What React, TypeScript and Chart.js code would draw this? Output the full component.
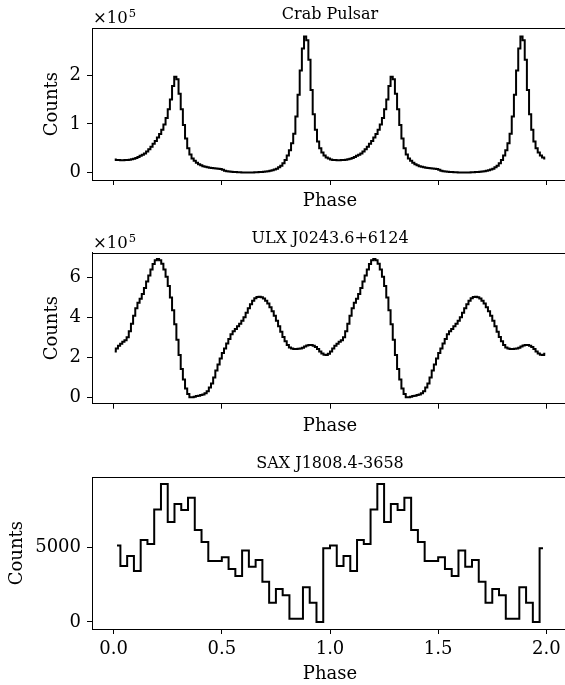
import React, { useEffect, useRef } from "react";
import { Chart, registerables } from "chart.js";

Chart.register(...registerables);

// ---------------- data ----------------
const phaseTicks = [0, 0.5, 1.0, 1.5, 2.0];
const cycles = 2;

const crabTitle = "Crab Pulsar";
// counts per phase bin, one pulse cycle (100 bins, x1e5)
const crabCounts = [
  0.27, 0.26, 0.255, 0.25, 0.25, 0.255, 0.26, 0.265, 0.275, 0.285,
  0.30, 0.32, 0.345, 0.365, 0.39, 0.43, 0.48, 0.53, 0.59, 0.65,
  0.72, 0.79, 0.88, 0.99, 1.12, 1.30, 1.50, 1.78, 1.97, 1.92,
  1.62, 1.30, 0.975, 0.70, 0.50, 0.37, 0.29, 0.24, 0.20, 0.17,
  0.15, 0.13, 0.12, 0.11, 0.10, 0.095, 0.09, 0.085, 0.08, 0.07,
  0.055, 0.035, 0.025, 0.02, 0.015, 0.01, 0.01, 0.005, 0.005, 0.0,
  0.0, 0.0, 0.0, 0.0, 0.0, 0.005, 0.005, 0.01, 0.01, 0.015,
  0.02, 0.025, 0.035, 0.045, 0.06, 0.08, 0.11, 0.14, 0.19, 0.26,
  0.35, 0.46, 0.60, 0.80, 1.15, 1.60, 2.10, 2.55, 2.80, 2.72,
  2.32, 1.70, 1.20, 0.88, 0.64, 0.50, 0.41, 0.35, 0.31, 0.29,
].map((v) => v * 1e5);
const crabYTicks = [0, 100000, 200000];

const ulxTitle = "ULX J0243.6+6124";
// counts per phase bin, one pulse cycle (100 bins, x1e5)
const ulxCounts = [
  2.30, 2.45, 2.58, 2.68, 2.78, 2.86, 3.00, 3.30, 3.68, 4.08,
  4.45, 4.72, 4.92, 5.15, 5.45, 5.78, 6.08, 6.38, 6.65, 6.84,
  6.90, 6.84, 6.66, 6.38, 6.02, 5.55, 4.98, 4.35, 3.65, 2.88,
  2.12, 1.42, 0.90, 0.45, 0.18, 0.02, 0.02, 0.05, 0.08, 0.10,
  0.13, 0.16, 0.22, 0.32, 0.50, 0.70, 1.00, 1.35, 1.65, 1.95,
  2.22, 2.45, 2.70, 2.92, 3.15, 3.30, 3.42, 3.55, 3.68, 3.82,
  4.00, 4.22, 4.45, 4.65, 4.82, 4.95, 5.01, 5.02, 5.00, 4.93,
  4.82, 4.68, 4.50, 4.30, 4.08, 3.82, 3.55, 3.28, 3.02, 2.80,
  2.62, 2.50, 2.44, 2.42, 2.42, 2.43, 2.45, 2.48, 2.54, 2.60,
  2.62, 2.62, 2.58, 2.52, 2.42, 2.30, 2.20, 2.13, 2.12, 2.18,
].map((v) => v * 1e5);
const ulxYTicks = [0, 200000, 400000, 600000];

const saxTitle = "SAX J1808.4-3658";
// counts per phase bin, one pulse cycle (32 bins)
const saxCounts = [
  5100, 3730, 4400, 3400, 5470, 5200, 7500, 9200,
  6670, 7870, 7470, 8290, 6130, 5330, 4070, 4070,
  4310, 3530, 3070, 4760, 3690, 4130, 2690, 1290,
  2200, 1780, 220, 220, 2310, 1290, 0, 4910,
];
const saxYTicks = [0, 5000];

const xLabel = "Phase";
const yLabel = "Counts";

// ---------------- helpers ----------------
function foldedSeries(values: number[]) {
  const n = values.length;
  const pts: { x: number; y: number }[] = [];
  for (let c = 0; c < cycles; c++) {
    for (let k = 0; k < n; k++) {
      pts.push({ x: c + (k + 0.5) / n, y: values[k] });
    }
  }
  return pts;
}

const FONT = "'DejaVu Serif', serif";
const CANVAS_W = 575;

type PanelSpec = {
  title: string;
  values: number[];
  yTicks: number[];
  yMin: number;
  yMax: number;
  exponent: number | null;
  top: number;
  height: number;
  spineTop: number;
  spineBottom: number;
  showXLabels: boolean;
  yTitlePad: number;
  xTitlePadBottom: number;
};

function Panel({ spec }: { spec: PanelSpec }) {
  const ref = useRef<HTMLCanvasElement | null>(null);
  useEffect(() => {
    const canvas = ref.current;
    if (!canvas) return;
    const divisor = spec.exponent ? Math.pow(10, spec.exponent) : 1;
    const framePlugin = {
      id: "frame" + spec.title.replace(/[^A-Za-z0-9]/g, ""),
      afterDraw(chart: any) {
        const { ctx, chartArea } = chart;
        const { left, right, top } = chartArea;
        ctx.save();
        // top spine
        ctx.strokeStyle = "#000";
        ctx.lineWidth = 1;
        ctx.beginPath();
        ctx.moveTo(left, Math.round(top) + 0.5);
        ctx.lineTo(right, Math.round(top) + 0.5);
        ctx.stroke();
        // title
        ctx.fillStyle = "#000";
        ctx.font = `16px ${FONT}`;
        ctx.textAlign = "center";
        ctx.textBaseline = "alphabetic";
        ctx.fillText(spec.title, (left + right) / 2, top - 9.5);
        // offset text
        if (spec.exponent) {
          ctx.textAlign = "left";
          ctx.font = `16.5px ${FONT}`;
          const base = "\u00d710";
          ctx.fillText(base, left + 1, top - 5);
          const w = ctx.measureText(base).width;
          ctx.font = `11.5px ${FONT}`;
          ctx.fillText(String(spec.exponent), left + 1 + w + 1, top - 11);
        }
        ctx.restore();
      },
    };
    const chart = new Chart(canvas, {
      type: "line",
      data: {
        datasets: [
          {
            data: foldedSeries(spec.values),
            borderColor: "#000",
            borderWidth: 2,
            pointRadius: 0,
            stepped: "middle",
            fill: false,
          } as any,
        ],
      },
      options: {
        responsive: false,
        animation: false,
        devicePixelRatio: 1,
        layout: {
          padding: { top: spec.spineTop - spec.top, right: 7, left: 0, bottom: 0 },
        },
        plugins: {
          legend: { display: false },
          tooltip: { enabled: false },
          title: { display: false },
        },
        scales: {
          x: {
            type: "linear",
            min: -0.1,
            max: 2.1,
            afterBuildTicks: (s: any) => {
              s.ticks = phaseTicks.map((v) => ({ value: v }));
            },
            afterFit: (s: any) => {
              s.height = spec.height - (spec.spineBottom - spec.top);
            },
            ticks: {
              display: spec.showXLabels,
              callback: (v: any) => Number(v).toFixed(1),
              font: { family: FONT, size: 18 },
              color: "#000",
              padding: 5,
              maxRotation: 0,
              autoSkip: false,
            },
            grid: {
              drawOnChartArea: false,
              drawTicks: true,
              tickLength: 5,
              color: "#000",
              lineWidth: 1,
            },
            border: { display: true, color: "#000", width: 1 },
            title: {
              display: true,
              text: xLabel,
              font: { family: FONT, size: 18 },
              color: "#000",
              padding: { top: 0, bottom: spec.xTitlePadBottom },
            },
          },
          y: {
            type: "linear",
            min: spec.yMin,
            max: spec.yMax,
            afterBuildTicks: (s: any) => {
              s.ticks = spec.yTicks.map((v) => ({ value: v }));
            },
            afterFit: (s: any) => {
              s.width = 92;
            },
            ticks: {
              callback: (v: any) => String(Math.round(Number(v) / divisor)),
              font: { family: FONT, size: 18 },
              color: "#000",
              padding: 6,
              autoSkip: false,
            },
            grid: {
              drawOnChartArea: false,
              drawTicks: true,
              tickLength: 5,
              color: "#000",
              lineWidth: 1,
            },
            border: { display: true, color: "#000", width: 1 },
            title: {
              display: true,
              text: yLabel,
              font: { family: FONT, size: 18 },
              color: "#000",
              padding: { top: spec.yTitlePad, bottom: 0 },
            },
          },
        },
      },
      plugins: [framePlugin],
    });
    return () => chart.destroy();
  }, [spec]);
  return (
    <canvas
      ref={ref}
      width={CANVAS_W}
      height={spec.height}
      style={{
        position: "absolute",
        left: 0,
        top: spec.top,
        width: CANVAS_W,
        height: spec.height,
      }}
    />
  );
}

const panels: PanelSpec[] = [
  {
    title: crabTitle,
    values: crabCounts,
    yTicks: crabYTicks,
    yMin: -15400,
    yMax: 296700,
    exponent: 5,
    top: 0,
    height: 215,
    spineTop: 28.3,
    spineBottom: 180,
    showXLabels: false,
    yTitlePad: 41.7,
    xTitlePadBottom: 3,
  },
  {
    title: ulxTitle,
    values: ulxCounts,
    yTicks: ulxYTicks,
    yMin: -30000,
    yMax: 721000,
    exponent: 5,
    top: 215,
    height: 225,
    spineTop: 252.7,
    spineBottom: 403.7,
    showXLabels: false,
    yTitlePad: 41.7,
    xTitlePadBottom: 3,
  },
  {
    title: saxTitle,
    values: saxCounts,
    yTicks: saxYTicks,
    yMin: -467,
    yMax: 9650,
    exponent: null,
    top: 440,
    height: 245,
    spineTop: 477.3,
    spineBottom: 629,
    showXLabels: true,
    yTitlePad: 6.7,
    xTitlePadBottom: 0,
  },
];

export default function App() {
  return (
    <div
      style={{
        position: "fixed",
        left: 0,
        top: 0,
        width: 565,
        height: 685,
        overflow: "hidden",
        background: "#fff",
      }}
    >
      {panels.map((p) => (
        <Panel key={p.title} spec={p} />
      ))}
    </div>
  );
}
